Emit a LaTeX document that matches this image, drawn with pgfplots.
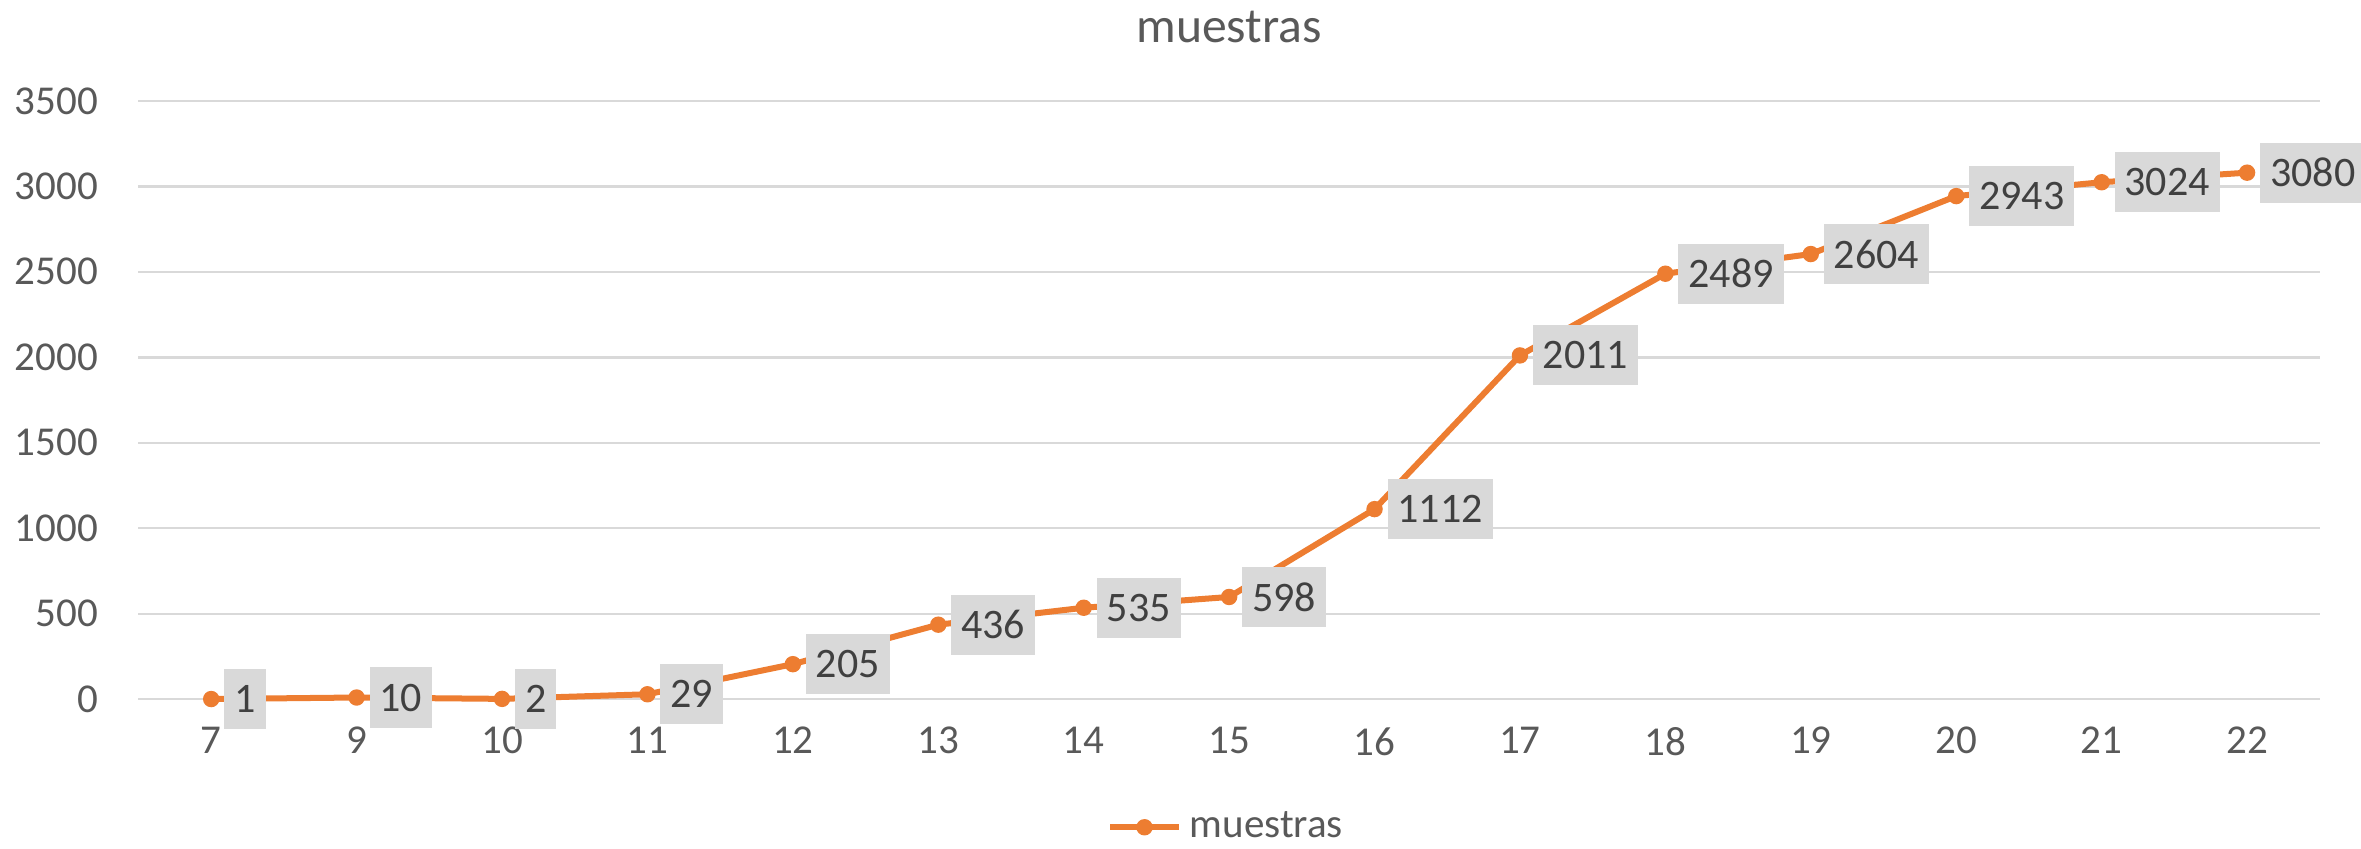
\documentclass[border=0pt]{standalone}
\usepackage{pgfplots}
\pgfplotsset{compat=1.18}
\usepackage{fontspec}
\setmainfont{Carlito}
\definecolor{lineorange}{HTML}{ED7D31}
\definecolor{gridgray}{HTML}{D9D9D9}
\definecolor{tickgray}{HTML}{595959}
\definecolor{labeltext}{HTML}{404040}
\begin{document}
\begin{tikzpicture}
\begin{axis}[
    width=545pt, height=149.5pt,
    scale only axis,
    clip=false,
    xmin=-0.5, xmax=14.5,
    ymin=0, ymax=3500,
    xtick={0,...,14},
    xticklabels={7,9,10,11,12,13,14,15,16,17,18,19,20,21,22},
    ytick={0,500,...,3500},
    ymajorgrids,
    grid style={gridgray, line width=0.6pt},
    axis line style={draw=none},
    major tick length=0pt,
    /pgf/number format/assume math mode=true,
    /pgf/number format/1000 sep={},
    tick label style={font=\fontsize{10.25}{12}\selectfont, text=tickgray},
    xticklabel style={yshift=-3.5pt},
    yticklabel style={xshift=-6.6pt},
    title={muestras},
    every axis title shift=0pt,
    title style={at={(0.5,1)}, anchor=center, yshift=18.4pt, inner sep=0pt,
        font=\fontsize{12.4}{14}\selectfont, text=tickgray},
    legend style={at={(0.5,-0.214)}, anchor=center, draw=none,
        font=\fontsize{10.25}{12}\selectfont, text=tickgray},
    legend cell align=left,
    point meta=explicit symbolic,
    nodes near coords,
    every node near coord/.append style={anchor=west, xshift=3pt,
        fill=gridgray, inner xsep=2.5pt, inner ysep=0pt,
        minimum height=15pt, text=labeltext,
        font=\fontsize{10.5}{12}\selectfont},
]
\addplot[color=lineorange, line width=1.5pt, mark=*,
    mark options={fill=lineorange, draw=lineorange, line width=0.5pt}, mark size=1.8pt]
coordinates {
    (0,1) [1]
    (1,10) [10]
    (2,2) [2]
    (3,29) [29]
    (4,205) [205]
    (5,436) [436]
    (6,535) [535]
    (7,598) [598]
    (8,1112) [1112]
    (9,2011) [2011]
    (10,2489) [2489]
    (11,2604) [2604]
    (12,2943) [2943]
    (13,3024) [3024]
    (14,3080) [3080]
};
\addlegendentry{muestras}
\end{axis}
\pgfresetboundingbox
\path (current axis.south west) ++(-34.6pt,-37.4pt) coordinate (bbsw);
\path (current axis.north east) ++(10.3pt,25.2pt) coordinate (bbne);
\useasboundingbox (bbsw) rectangle (bbne);
\end{tikzpicture}
\end{document}
